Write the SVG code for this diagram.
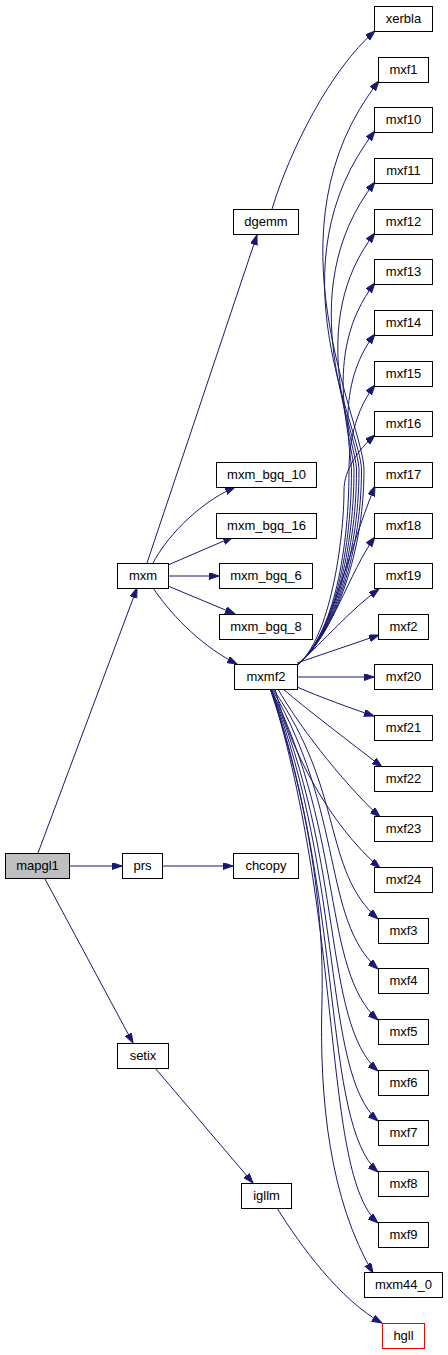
<svg xmlns="http://www.w3.org/2000/svg" width="448" height="1355" viewBox="0 0 448 1355">
<style>
.n rect{fill:#fff;stroke:#000;stroke-width:1}
.n text{font-family:"Liberation Sans",Arial,sans-serif;font-size:13px;fill:#000;text-anchor:middle}
.e path{fill:none;stroke:#191970;stroke-width:1;marker-end:url(#a)}
</style>
<defs>
<marker id="a" markerUnits="userSpaceOnUse" markerWidth="11" markerHeight="8" refX="10" refY="3.5" orient="auto">
<path d="M0,0 L10,3.5 L0,7 z" fill="#191970" stroke="#191970" stroke-width="1"/>
</marker>
</defs>
<rect width="448" height="1355" fill="#fff"/>
<g class="e" id="edges">
<path d="M38,853 L137,588"/>
<path d="M69,866 L122,866"/>
<path d="M45,879 L133,1043"/>
<path d="M162,866 L233,866"/>
<path d="M155,1068 L253,1183"/>
<path d="M277,1208 C300,1245 340,1300 382,1323"/>
<path d="M147,563 L257,235"/>
<path d="M272,209 C290,150 330,70 375,31"/>
<path d="M153,563 C165,540 195,505 235,487"/>
<path d="M168,565 L233,537"/>
<path d="M168,576 L219,576"/>
<path d="M168,586 L235,614"/>
<path d="M153,588 C175,620 205,648 237,664"/>
<path d="M297,665 C330,640 364,560 364,470 C364,423 262,229 379,81"/>
<path d="M297,665 C330,640 361.5,560 361.5,470 C361.5,429 270,265 375,131"/>
<path d="M297,665 C330,640 359,560 359,470 C359,435 287,294 375,182"/>
<path d="M297,665 C330,640 356.5,560 356.5,470 C356.5,441.6 304,323 375,233"/>
<path d="M297,665 C330,640 354,560 354,470 C354,447.6 318.9,354 375,283"/>
<path d="M297,665 C330,640 351.5,560 351.5,470 C351.5,453.7 334.2,385.7 375,334"/>
<path d="M297,665 C330,640 349,560 349,470 C349,459.8 349.5,417.3 375,385"/>
<path d="M297,665 C330,640 344,540 344,490 C344,470 358,450 375,435"/>
<path d="M297,665 C330,640 345,560 375,486"/>
<path d="M297,665 C330,640 350,570 375,537"/>
<path d="M297,665 C325,640 350,610 379,589"/>
<path d="M297,663 L379,635"/>
<path d="M297,677 L374,677"/>
<path d="M297,687 C320,697 350,708 374,716"/>
<path d="M283,689 C310,712 350,742 382,767"/>
<path d="M278,689 C295,720 340,780 380,817"/>
<path d="M275,689 C290,750 330,825 380,868"/>
<path d="M273,689 C345,792 322,869 378,919"/>
<path d="M272,689 C345,815 322,919 378,969"/>
<path d="M271,689 C345,838 322,970 378,1020"/>
<path d="M271,689 C345,861 322,1021 378,1071"/>
<path d="M271,689 C345,883 322,1071 378,1121"/>
<path d="M271,689 C345,906 322,1122 378,1172"/>
<path d="M271,689 C345,929 322,1173 378,1223"/>
<path d="M270,689 C295,760 325,880 322,1000 C319,1100 330,1200 373,1273"/>
</g>
<g class="n" id="mapgl1"><rect x="5.5" y="853.5" width="64" height="25" style="fill:#bfbfbf"/><text x="37.5" y="870">mapgl1</text></g>
<g class="n" id="prs"><rect x="122.5" y="853.5" width="40" height="25"/><text x="142.5" y="870">prs</text></g>
<g class="n" id="chcopy"><rect x="233.5" y="853.5" width="65" height="25"/><text x="266" y="870">chcopy</text></g>
<g class="n" id="mxm"><rect x="117.5" y="563.5" width="51" height="25"/><text x="143" y="580">mxm</text></g>
<g class="n" id="setix"><rect x="117.5" y="1043.5" width="51" height="25"/><text x="143" y="1060">setix</text></g>
<g class="n" id="dgemm"><rect x="233.5" y="209.5" width="65" height="25"/><text x="266" y="226">dgemm</text></g>
<g class="n" id="mxm_bgq_10"><rect x="216.5" y="462.5" width="100" height="25"/><text x="266.5" y="479">mxm_bgq_10</text></g>
<g class="n" id="mxm_bgq_16"><rect x="216.5" y="513.5" width="100" height="25"/><text x="266.5" y="530">mxm_bgq_16</text></g>
<g class="n" id="mxm_bgq_6"><rect x="219.5" y="563.5" width="93" height="25"/><text x="266" y="580">mxm_bgq_6</text></g>
<g class="n" id="mxm_bgq_8"><rect x="219.5" y="614.5" width="93" height="25"/><text x="266" y="631">mxm_bgq_8</text></g>
<g class="n" id="mxmf2"><rect x="234.5" y="664.5" width="63" height="25"/><text x="266" y="681">mxmf2</text></g>
<g class="n" id="igllm"><rect x="241.5" y="1183.5" width="50" height="25"/><text x="266.5" y="1200">igllm</text></g>
<g class="n" id="xerbla"><rect x="374.5" y="6.5" width="58" height="25"/><text x="403.5" y="23">xerbla</text></g>
<g class="n" id="mxf1"><rect x="378.5" y="57.5" width="50" height="25"/><text x="403.5" y="74">mxf1</text></g>
<g class="n" id="mxf10"><rect x="374.5" y="107.5" width="58" height="25"/><text x="403.5" y="124">mxf10</text></g>
<g class="n" id="mxf11"><rect x="374.5" y="158.5" width="58" height="25"/><text x="403.5" y="175">mxf11</text></g>
<g class="n" id="mxf12"><rect x="374.5" y="209.5" width="58" height="25"/><text x="403.5" y="226">mxf12</text></g>
<g class="n" id="mxf13"><rect x="374.5" y="259.5" width="58" height="25"/><text x="403.5" y="276">mxf13</text></g>
<g class="n" id="mxf14"><rect x="374.5" y="310.5" width="58" height="25"/><text x="403.5" y="327">mxf14</text></g>
<g class="n" id="mxf15"><rect x="374.5" y="361.5" width="58" height="25"/><text x="403.5" y="378">mxf15</text></g>
<g class="n" id="mxf16"><rect x="374.5" y="411.5" width="58" height="25"/><text x="403.5" y="428">mxf16</text></g>
<g class="n" id="mxf17"><rect x="374.5" y="462.5" width="58" height="25"/><text x="403.5" y="479">mxf17</text></g>
<g class="n" id="mxf18"><rect x="374.5" y="513.5" width="58" height="25"/><text x="403.5" y="530">mxf18</text></g>
<g class="n" id="mxf19"><rect x="374.5" y="563.5" width="58" height="25"/><text x="403.5" y="580">mxf19</text></g>
<g class="n" id="mxf2"><rect x="378.5" y="614.5" width="50" height="25"/><text x="403.5" y="631">mxf2</text></g>
<g class="n" id="mxf20"><rect x="374.5" y="664.5" width="58" height="25"/><text x="403.5" y="681">mxf20</text></g>
<g class="n" id="mxf21"><rect x="374.5" y="715.5" width="58" height="25"/><text x="403.5" y="732">mxf21</text></g>
<g class="n" id="mxf22"><rect x="374.5" y="766.5" width="58" height="25"/><text x="403.5" y="783">mxf22</text></g>
<g class="n" id="mxf23"><rect x="374.5" y="816.5" width="58" height="25"/><text x="403.5" y="833">mxf23</text></g>
<g class="n" id="mxf24"><rect x="374.5" y="867.5" width="58" height="25"/><text x="403.5" y="884">mxf24</text></g>
<g class="n" id="mxf3"><rect x="378.5" y="918.5" width="50" height="25"/><text x="403.5" y="935">mxf3</text></g>
<g class="n" id="mxf4"><rect x="378.5" y="968.5" width="50" height="25"/><text x="403.5" y="985">mxf4</text></g>
<g class="n" id="mxf5"><rect x="378.5" y="1019.5" width="50" height="25"/><text x="403.5" y="1036">mxf5</text></g>
<g class="n" id="mxf6"><rect x="378.5" y="1070.5" width="50" height="25"/><text x="403.5" y="1087">mxf6</text></g>
<g class="n" id="mxf7"><rect x="378.5" y="1120.5" width="50" height="25"/><text x="403.5" y="1137">mxf7</text></g>
<g class="n" id="mxf8"><rect x="378.5" y="1171.5" width="50" height="25"/><text x="403.5" y="1188">mxf8</text></g>
<g class="n" id="mxf9"><rect x="378.5" y="1222.5" width="50" height="25"/><text x="403.5" y="1239">mxf9</text></g>
<g class="n" id="mxm44_0"><rect x="364.5" y="1272.5" width="78" height="25"/><text x="403.5" y="1289">mxm44_0</text></g>
<g class="n" id="hgll"><rect x="382.5" y="1323.5" width="42" height="25" style="stroke:#ff0000"/><text x="403.5" y="1340">hgll</text></g>
</svg>
